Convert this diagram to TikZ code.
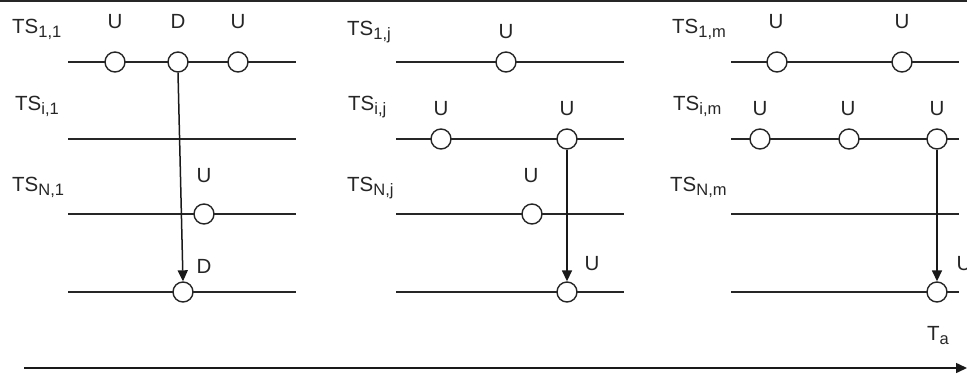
\documentclass[tikz,border=0pt]{standalone}
\usepackage{fontspec}
\setmainfont{Liberation Sans}
\usetikzlibrary{arrows.meta}
\newcommand\mysub[1]{\raisebox{-4.5pt}{\fontsize{16.5}{16.5}\selectfont #1}}
\begin{document}
\begin{tikzpicture}[x=1pt,y=-1pt,
  txt/.style={inner sep=0pt,font=\fontsize{20.5}{24}\selectfont,text=black!85},
  lbl/.style={txt,anchor=base west},
  ev/.style={txt,anchor=base},
  tl/.style={line width=1.5pt,black!85},
  evc/.style={circle,draw=black!85,line width=1.4pt,fill=white,minimum size=20pt,inner sep=0pt},
  arr/.style={line width=1.5pt,black!90,-{Triangle[length=11pt,width=10pt]}}]
\useasboundingbox (0,0) rectangle (967,373);
\fill[black!85] (0,0) rectangle (967,2);
% ---------- row lines
\foreach \r/\y in {1/62,2/139,3/214,4/292}{
  \coordinate (a\r l) at (68,\y); \coordinate (a\r r) at (296,\y);
  \draw[tl] (a\r l) -- (a\r r);
  \coordinate (b\r l) at (396,\y); \coordinate (b\r r) at (624,\y);
  \draw[tl] (b\r l) -- (b\r r);
  \coordinate (c\r l) at (731,\y); \coordinate (c\r r) at (959,\y);
  \draw[tl] (c\r l) -- (c\r r);
}
% ---------- column 1
\node[lbl] (ta1) at (12,33) {TS\mysub{1,1}};
\node[lbl] (ta2) at (15,110) {TS\mysub{i,1}};
\node[lbl] (ta3) at (12,191) {TS\mysub{N,1}};
\node[evc] (a11) at (115,62) {};
\node[evc] (a12) at (178,62) {};
\node[evc] (a13) at (238,62) {};
\node[evc] (a31) at (204,214) {};
\node[evc] (a41) at (183,292) {};
\node[ev] (ua11) at (115,28) {U};
\node[ev] (ua12) at (178,28) {D};
\node[ev] (ua13) at (238,28) {U};
\node[ev] (ua31) at (204,182) {U};
\node[ev] (ua41) at (204,273) {D};
\draw[arr] (a12.south) -- (a41.north);
% ---------- column 2
\node[lbl] (tb1) at (347,35) {TS\mysub{1,j}};
\node[lbl] (tb2) at (348,110) {TS\mysub{i,j}};
\node[lbl] (tb3) at (347,191) {TS\mysub{N,j}};
\node[evc] (b11) at (506,62) {};
\node[evc] (b21) at (441,139) {};
\node[evc] (b22) at (567,139) {};
\node[evc] (b31) at (532,214) {};
\node[evc] (b41) at (567,292) {};
\node[ev] (ub11) at (506,38) {U};
\node[ev] (ub21) at (441,115) {U};
\node[ev] (ub22) at (567,115) {U};
\node[ev] (ub31) at (531,182) {U};
\node[ev] (ub41) at (592,270) {U};
\draw[arr] (b22.south) -- (b41.north);
% ---------- column 3
\node[lbl] (tc1) at (672,33) {TS\mysub{1,m}};
\node[lbl] (tc2) at (673,110) {TS\mysub{i,m}};
\node[lbl] (tc3) at (670,191) {TS\mysub{N,m}};
\node[evc] (c11) at (777,62) {};
\node[evc] (c12) at (902,62) {};
\node[evc] (c21) at (760,139) {};
\node[evc] (c22) at (849,139) {};
\node[evc] (c23) at (937,139) {};
\node[evc] (c41) at (937,292) {};
\node[ev] (uc11) at (776,28) {U};
\node[ev] (uc12) at (902,28) {U};
\node[ev] (uc21) at (760,115) {U};
\node[ev] (uc22) at (848,115) {U};
\node[ev] (uc23) at (937,115) {U};
\node[ev] (uc41) at (964,270) {U};
\draw[arr] (c23.south) -- (c41.north);
% ---------- time axis
\node[ev] (ta) at (938,340) {T\mysub{a}};
\coordinate (t0) at (24,368);
\coordinate (t1) at (967,368);
\draw[arr] (t0) -- (t1);
\end{tikzpicture}
\end{document}
